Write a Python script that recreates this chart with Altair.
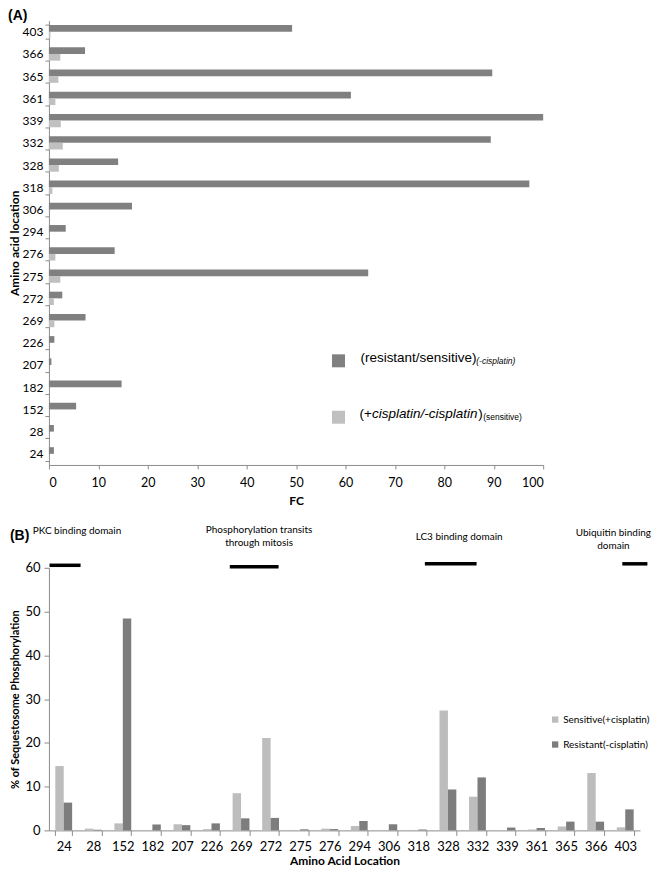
import altair as alt
import pandas as pd

# ---------------- Panel A data ----------------
locs_a = ["403", "366", "365", "361", "339", "332", "328", "318", "306", "294",
          "276", "275", "272", "269", "226", "207", "182", "152", "28", "24"]
fc_resistant = [49.2, 7.3, 89.7, 61.1, 100.0, 89.4, 14.0, 97.2, 16.8, 3.4,
                13.3, 64.6, 2.7, 7.4, 1.1, 0.5, 14.7, 5.5, 1.0, 1.0]
fc_cisplatin = [0.3, 2.3, 1.9, 1.3, 2.4, 2.8, 2.0, 0.7, 0.0, 0.0,
                1.3, 2.3, 1.0, 1.1, 0.0, 0.0, 0.0, 0.0, 0.0, 0.0]
fc_ticks = [0, 10, 20, 30, 40, 50, 60, 70, 80, 90, 100]

# ---------------- Panel B data ----------------
locs_b = ["24", "28", "152", "182", "207", "226", "269", "272", "275", "276",
          "294", "306", "318", "328", "332", "339", "361", "365", "366", "403"]
pct_sensitive = [14.7, 0.4, 1.6, 0.0, 1.4, 0.3, 8.5, 21.1, 0.1, 0.4,
                 1.0, 0.0, 0.1, 27.4, 7.7, 0.05, 0.2, 0.9, 13.1, 0.7]
pct_resistant = [6.35, 0.15, 48.4, 1.35, 1.2, 1.6, 2.75, 2.85, 0.25, 0.3,
                 2.15, 1.4, 0.2, 9.35, 12.1, 0.65, 0.55, 2.0, 2.0, 4.8]
pct_ticks = [0, 10, 20, 30, 40, 50, 60]

series_b = ["Sensitive(+cisplatin)", "Resistant(-cisplatin)"]

# domain annotations (position in category-band units along the x axis)
dom_names = ["PKC binding domain", "Phosphorylation transits\nthrough mitosis",
             "LC3 binding domain", "Ubiquitin binding\ndomain"]
dom_start = [0.02, 6.12, 12.72, 19.4]
dom_end = [1.07, 7.77, 14.47, 20.25]
dom_line_y = [60.57, 60.23, 60.91, 60.91]
dom_text_x = [0.95, 7.11, 13.88, 19.1]
dom_text_y = [68.44, 68.67, 67.07, 67.99]

DARK = "#808080"
LIGHT = "#c0c0c0"
AXIS_C = "#8c8c8c"
CAL = "Lato"
ARIAL = "Liberation Sans"

# ---------------- Panel A ----------------
dfA = pd.DataFrame({
    "loc": locs_a + locs_a,
    "series": ["res"] * len(locs_a) + ["cis"] * len(locs_a),
    "fc": fc_resistant + fc_cisplatin,
})

bars_a = alt.Chart(dfA).mark_bar().encode(
    y=alt.Y("loc:N", sort=locs_a,
            scale=alt.Scale(paddingInner=0.4, paddingOuter=0.2),
            axis=alt.Axis(title="Amino acid location", tickBand="extent",
                          labelFont=CAL, labelFontSize=12, labelColor="#000",
                          titleFont=CAL, titleFontSize=12, titleFontWeight="bold",
                          titleColor="#000", titlePadding=1,
                          domainColor=AXIS_C, tickColor=AXIS_C, tickSize=4,
                          labelPadding=2)),
    yOffset=alt.YOffset("series:N", sort=["res", "cis"]),
    x=alt.X("fc:Q", scale=alt.Scale(domain=[0, 100], nice=False),
            axis=alt.Axis(values=fc_ticks, title="FC", grid=False,
                          labelFont=CAL, labelFontSize=12.5, labelColor="#000",
                          titleFont=CAL, titleFontSize=12, titleFontWeight="bold",
                          titleColor="#000", titlePadding=6,
                          domainColor=AXIS_C, tickColor=AXIS_C, tickSize=4,
                          labelPadding=8)),
    color=alt.Color("series:N", scale=alt.Scale(domain=["res", "cis"], range=[DARK, LIGHT]),
                    legend=None),
)

one = pd.DataFrame({"t": [""]})


def txt(s, x, y, size, style="normal", font=ARIAL):
    return alt.Chart(one).mark_text(
        text=s, font=font, fontSize=size, fontStyle=style, align="left",
        baseline="alphabetic", color="#000"
    ).encode(x=alt.value(x), y=alt.value(y))


def sq(x, y, color, size):
    return alt.Chart(one).mark_square(size=size, color=color, opacity=1).encode(
        x=alt.value(x), y=alt.value(y))


legend_a = [
    sq(290, 340.7, DARK, 169),
    txt("(resistant/sensitive)", 312, 341.7, 13.5),
    txt("(-cisplatin)", 428, 343.6, 8.5, "italic"),
    sq(290, 397.2, LIGHT, 169),
    txt("(+", 311, 397.5, 13.5),
    txt("cisplatin/-cisplatin", 323.5, 397.5, 13.5, "italic"),
    txt(")", 430, 397.5, 13.5),
    txt("(sensitive)", 435, 400.4, 8.5),
]

panel_a = alt.layer(bars_a, *legend_a).properties(
    width=495, height=445,
    title=alt.Title("(A)", anchor="start", frame="bounds", font=ARIAL,
                    fontSize=14, fontWeight="bold", offset=-8),
)

# ---------------- Panel B ----------------
dfB = pd.DataFrame({
    "loc": locs_b + locs_b,
    "series": [series_b[0]] * len(locs_b) + [series_b[1]] * len(locs_b),
    "pct": pct_sensitive + pct_resistant,
})

bars_b = alt.Chart(dfB).mark_bar().encode(
    x=alt.X("loc:N", sort=locs_b,
            scale=alt.Scale(paddingInner=0.43, paddingOuter=0.215),
            axis=alt.Axis(title="Amino Acid Location", labelAngle=0, tickBand="extent",
                          labelFont=CAL, labelFontSize=13, labelColor="#000",
                          titleFont=CAL, titleFontSize=12, titleFontWeight="bold",
                          titleColor="#000", titlePadding=2,
                          domainColor=AXIS_C, tickColor=AXIS_C, tickSize=5,
                          labelPadding=5)),
    xOffset=alt.XOffset("series:N", sort=series_b),
    y=alt.Y("pct:Q", scale=alt.Scale(domain=[0, 60], nice=False),
            axis=alt.Axis(values=pct_ticks, grid=False,
                          title="% of Sequestosome Phosphorylation",
                          labelFont=CAL, labelFontSize=13, labelColor="#000",
                          titleFont=CAL, titleFontSize=11, titleFontWeight="bold",
                          titleColor="#000", titlePadding=4,
                          domainColor=AXIS_C, tickColor=AXIS_C, tickSize=5,
                          labelPadding=4)),
    color=alt.Color("series:N", scale=alt.Scale(domain=series_b, range=["#bdbdbd", "#7d7d7d"]),
                    legend=alt.Legend(title=None, orient="none", legendX=502, legendY=147,
                                      symbolType="square", symbolSize=40,
                                      symbolStrokeWidth=0, labelFont=CAL,
                                      labelFontSize=10, labelColor="#000",
                                      labelOffset=3, rowPadding=15)),
)

dfD = pd.DataFrame({
    "name": dom_names, "x0": dom_start, "x1": dom_end, "ly": dom_line_y,
    "tx": dom_text_x, "ty": dom_text_y,
})

xs_dom = alt.Scale(domain=[0, 20], nice=False, zero=False)

dom_lines = alt.Chart(dfD).mark_rule(color="#000", strokeWidth=3.5).encode(
    x=alt.X("x0:Q", scale=xs_dom, axis=None),
    x2="x1:Q",
    y=alt.Y("ly:Q"),
)

dom_text = alt.Chart(dfD).mark_text(
    font=CAL, fontSize=10, color="#000", align="center", baseline="middle",
    lineBreak="\n", lineHeight=13,
).encode(
    x=alt.X("tx:Q", scale=xs_dom, axis=None),
    y=alt.Y("ty:Q"),
    text="name:N",
)

panel_b = alt.layer(bars_b, dom_lines, dom_text).resolve_scale(x="independent").properties(
    width=592, height=263,
    title=alt.Title("(B)", anchor="start", frame="bounds", font=ARIAL,
                    fontSize=14, fontWeight="bold", offset=-18),
)

chart = alt.vconcat(panel_a, panel_b, spacing=17).resolve_scale(
    color="independent"
).properties(
    padding=0
).configure_view(stroke=None).configure_title(color="#000")

chart.save("out.html", embed_options={"renderer": "svg", "actions": False})
